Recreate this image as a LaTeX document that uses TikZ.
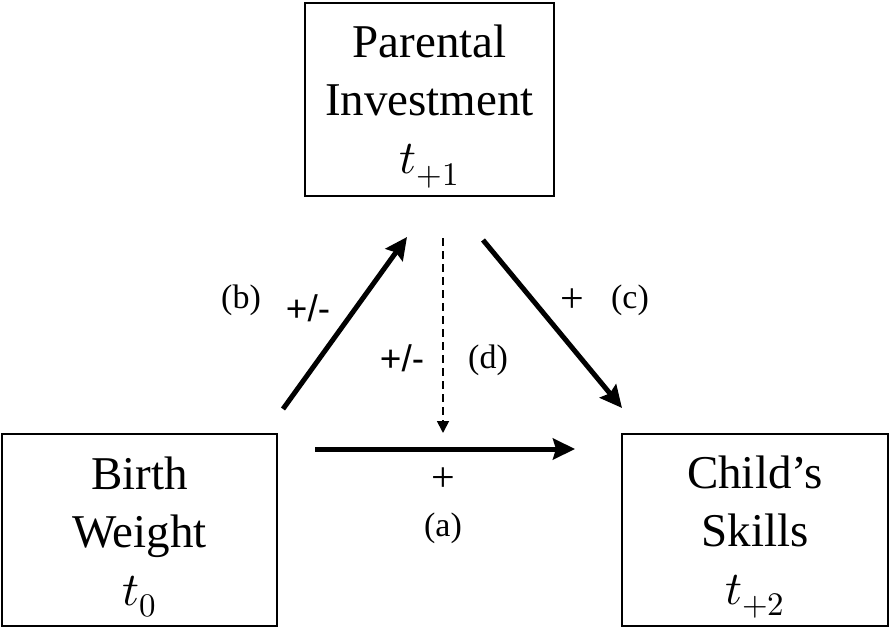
\documentclass[tikz,border=0pt]{standalone}
\usepackage{fontspec}
\usepackage{unicode-math}
\setmainfont{Liberation Serif}
\setmathfont{Latin Modern Math}
\newfontfamily\labsans{Liberation Sans}
\usetikzlibrary{arrows.meta}
\newcommand{\topstrut}{\rule{0pt}{47pt}}
\begin{document}
\begin{tikzpicture}[x=1pt,y=-1pt,
  boxnode/.style={draw, line width=1.6pt, align=center, inner sep=0pt,
    font=\fontsize{47}{58}\selectfont},
  thickarr/.style={line width=5pt, -{Stealth[length=22pt,width=21pt,inset=3pt]}},
  dasharr/.style={line width=1.8pt, dash pattern=on 8pt off 5pt,
    -{Triangle[length=12pt,width=12pt]}},
  lab/.style={font=\fontsize{34}{38}\selectfont, inner sep=0pt},
  plus/.style={font=\fontsize{42}{44}\selectfont, inner sep=0pt},
  pm/.style={font=\labsans\fontsize{37}{40}\selectfont, inner sep=0pt}]
\useasboundingbox (0,0) rectangle (890,628);
\node[boxnode, minimum width=249pt, minimum height=193pt] (pi) at (429.5,99.5)
  {\topstrut Parental\\Investment\\$t_{+1}$};
\node[boxnode, minimum width=275pt, minimum height=192pt] (bw) at (139.5,530)
  {\topstrut Birth\\Weight\\$t_{0}$};
\node[boxnode, minimum width=266pt, minimum height=192pt] (cs) at (755,530)
  {\topstrut Child’s\\Skills\\$t_{+2}$};
% arrow endpoints
\coordinate (bs) at (283,409);
\coordinate (be) at (407,237);
\coordinate (cs0) at (483,240);
\coordinate (ce) at (622,408);
\coordinate (as) at (315,449);
\coordinate (ae) at (575,449);
\coordinate (ds) at (443,238);
\coordinate (de) at (443,433);
\draw[thickarr] (bs) -- (be);
\draw[thickarr] (cs0) -- (ce);
\draw[thickarr] (as) -- (ae);
\draw[dasharr] (ds) -- (de);
% labels
\node[lab] (lb) at (241,300) {(b)};
\node[pm] (pmb) at (308,308) {+/-};
\node[pm] (pmd) at (402,358) {+/-};
\node[lab] (ld) at (488,360) {(d)};
\node[plus] (pc) at (572,301) {+};
\node[lab] (lc) at (630,300) {(c)};
\node[plus] (pa) at (443,480) {+};
\node[lab] (la) at (443,528) {(a)};
\end{tikzpicture}
\end{document}
